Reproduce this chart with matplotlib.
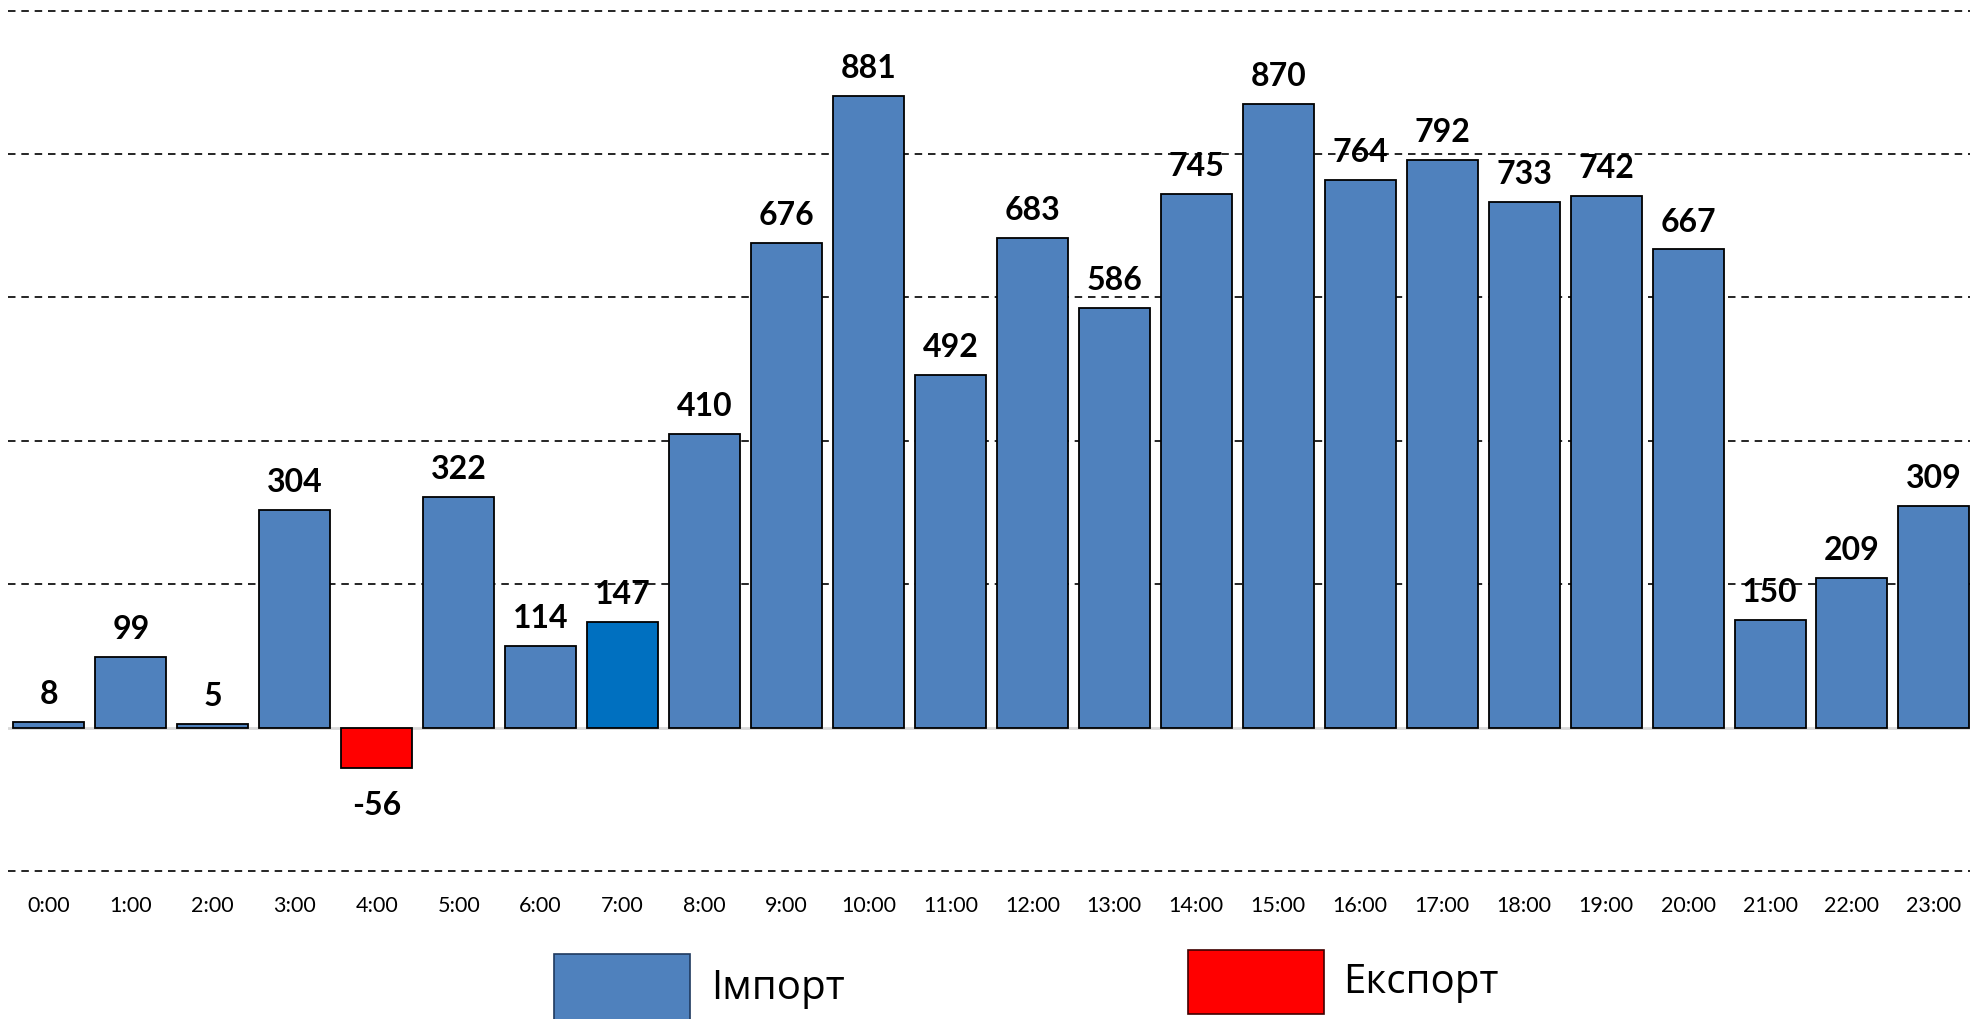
import matplotlib
matplotlib.use('Agg')
import matplotlib.pyplot as plt
from matplotlib.patches import Rectangle

# Hourly balance, MW (positive = import, negative = export)
hours = [f'{h}:00' for h in range(24)]
values = [8, 99, 5, 304, -56, 322, 114, 147, 410, 676, 881, 492,
          683, 586, 745, 870, 764, 792, 733, 742, 667, 150, 209, 309]
grid_levels = [-200, 200, 400, 600, 800, 1000]
legend_labels = ['Імпорт', 'Експорт']

import_color = '#4F81BD'
export_color = '#FF0000'
highlight_color = '#0070C0'
highlight_hour = 7

colors = []
for i, v in enumerate(values):
    if v < 0:
        colors.append(export_color)
    elif i == highlight_hour:
        colors.append(highlight_color)
    else:
        colors.append(import_color)

fig = plt.figure(figsize=(19.7, 10.2), dpi=100)
ax = fig.add_axes([0.004, 0.1451, 0.9985, 0.8434])

x = list(range(len(hours)))
bars = ax.bar(x, values, width=0.866, color=colors, edgecolor='black',
              linewidth=1.3, zorder=3)

# dashed grid lines and light zero line
for g in grid_levels:
    ax.axhline(g, color='black', lw=1.2, dashes=(4.5, 3.5), zorder=1, clip_on=False)
ax.axhline(0, color='#D9D9D9', lw=2, zorder=2)

# value labels
for xi, v in zip(x, values):
    if v >= 0:
        ax.annotate(str(v), (xi, v), xytext=(0, 13.5), textcoords='offset points',
                    ha='center', va='baseline', fontsize=23, weight='bold',
                    family=['Lato', 'DejaVu Sans'], zorder=4)
    else:
        ax.annotate(str(v), (xi, v), xytext=(0, -16), textcoords='offset points',
                    ha='center', va='top', fontsize=23, weight='bold',
                    family=['Lato', 'DejaVu Sans'], zorder=4)

ax.set_xlim(-0.5, len(hours) - 0.5)
ax.set_ylim(-200, 1000)
ax.set_xticks(x)
ax.set_xticklabels(hours, fontsize=15.5, family=['Lato', 'DejaVu Sans'])
ax.tick_params(axis='x', length=0, pad=17)
ax.set_yticks([])
for s in ax.spines.values():
    s.set_visible(False)

# legend drawn by hand, Excel style
fig.patches.append(Rectangle((0.281, -0.01), 0.069, 0.0737, transform=fig.transFigure,
                             facecolor=import_color, edgecolor='#1F3A5F', lw=1.2))
fig.text(0.361, 0.031, legend_labels[0], fontsize=29, va='center', ha='left',
         family=['Open Sans', 'DejaVu Sans'])
fig.patches.append(Rectangle((0.603, 0.0049), 0.069, 0.0627, transform=fig.transFigure,
                             facecolor=export_color, edgecolor='#3F0000', lw=1.2))
fig.text(0.682, 0.037, legend_labels[1], fontsize=29, va='center', ha='left',
         family=['Open Sans', 'DejaVu Sans'])

fig.savefig('out.png', dpi=100, facecolor='white')
